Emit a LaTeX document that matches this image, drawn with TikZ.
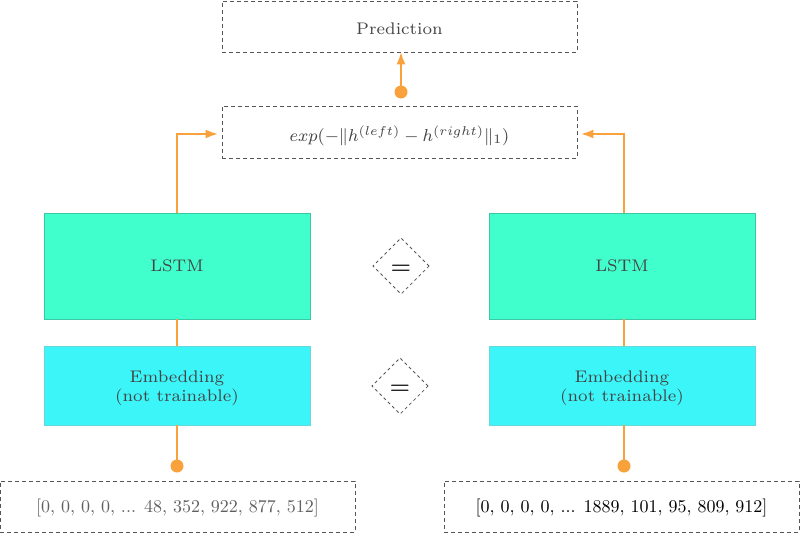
\documentclass[tikz,border=0pt]{standalone}
\usepackage{graphicx}
\usetikzlibrary{shapes.geometric,arrows.meta}
\definecolor{arr}{HTML}{F9A23B}
\definecolor{lstmfill}{HTML}{40FFCC}
\definecolor{lstmdraw}{HTML}{3CC8A5}
\definecolor{embfill}{HTML}{3CF5F8}
\definecolor{embdraw}{HTML}{66D8DA}
\definecolor{txt}{HTML}{444444}
\definecolor{dash}{HTML}{555555}
\newcommand\sctxt[4]{\raisebox{-#4pt}[\height][\depth]{\scalebox{#2}{\fontsize{#1}{8.3}\selectfont\begin{tabular}{@{}c@{}}#3\end{tabular}}}}
\tikzset{
  base/.style={text=txt, align=center, inner sep=0pt},
  dbox/.style={base, draw=dash, line width=0.8pt, dash pattern=on 4pt off 3pt, minimum width=355pt},
  lstmbox/.style={base, fill=lstmfill, draw=lstmdraw, minimum width=266pt, minimum height=106pt},
  embbox/.style={base, fill=embfill, draw=embdraw, minimum width=266pt, minimum height=79pt},
  eqbox/.style={diamond, draw=dash, line width=0.8pt, dash pattern=on 3pt off 3pt, minimum width=56pt, minimum height=56pt, inner sep=0pt, text=black},
  link/.style={draw=arr, line width=2.5pt},
  dotc/.style={circle, fill=arr, minimum size=13pt, inner sep=0pt},
  tip/.style={-{Latex[length=13pt,width=9pt]}}
}
\begin{document}
\begin{tikzpicture}[x=1pt,y=-1pt]
\useasboundingbox (0,0) rectangle (800,533);
\node[dbox, minimum height=51pt] (pred) at (399.5,26.5) {\sctxt{7}{2.4}{Prediction}{4}};
\node[dbox, minimum height=52pt] (expn) at (399.5,132) {\sctxt{8}{2.15}{$exp(-\|h^{(left)}-h^{(right)}\|_1)$}{4}};
\node[lstmbox] (lstmL) at (177,266) {\sctxt{7}{2.4}{LSTM}{2}};
\node[lstmbox] (lstmR) at (622,266) {\sctxt{7}{2.4}{LSTM}{2}};
\node[embbox] (embL) at (177,385.5) {\sctxt{7}{2.4}{Embedding\\(not trainable)}{2.5}};
\node[embbox] (embR) at (622,385.5) {\sctxt{7}{2.4}{Embedding\\(not trainable)}{2.5}};
\node[eqbox] (eqA) at (401,266) {\sctxt{5}{4.2}{$=$}{1}};
\node[eqbox] (eqB) at (400,386) {\sctxt{5}{4.2}{$=$}{1}};
\node[dbox, minimum height=51pt, text=txt!85] (inL) at (177.5,506.5) {\sctxt{10}{1.8}{[0, 0, 0, 0, ... 48, 352, 922, 877, 512]}{1}};
\node[dbox, minimum height=51pt, text=black] (inR) at (621.5,506.5) {\sctxt{10}{1.8}{[0, 0, 0, 0, ... 1889, 101, 95, 809, 912]}{1}};
\node[dotc] (dotP) at (401,92) {};
\node[dotc] (dotL) at (177,466) {};
\node[dotc] (dotR) at (624,466) {};
\coordinate (cL) at (177,134);
\coordinate (cR) at (624,134);
\draw[link] (embL.south -| dotL) -- (dotL.center);
\draw[link] (embR.south -| dotR) -- (dotR.center);
\draw[link] (lstmL.south -| dotL) -- (embL.north -| dotL);
\draw[link] (lstmR.south -| dotR) -- (embR.north -| dotR);
\draw[link, tip] (lstmL.north -| cL) -- (cL) -- ([xshift=-3pt]expn.west |- cL);
\draw[link, tip] (lstmR.north -| cR) -- (cR) -- ([xshift=3pt]expn.east |- cR);
\draw[link, tip] (dotP.center) -- ([yshift=1pt]pred.south -| dotP);
\end{tikzpicture}
\end{document}
